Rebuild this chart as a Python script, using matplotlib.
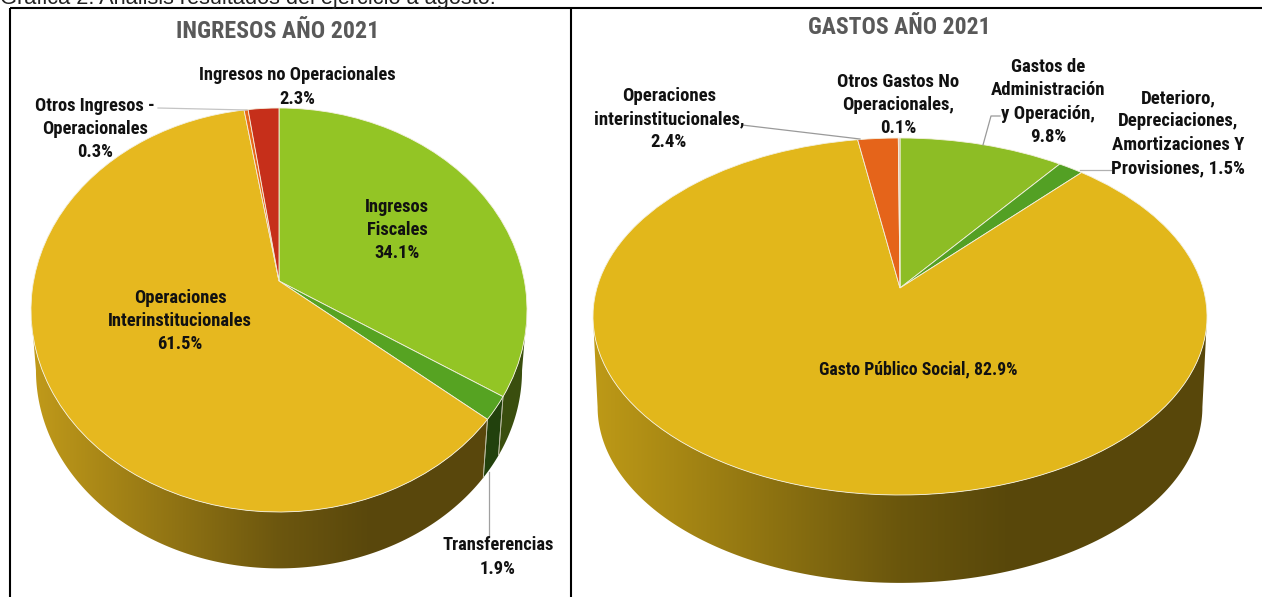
import logging
import numpy as np
import matplotlib
matplotlib.use("Agg")
import matplotlib.pyplot as plt
from matplotlib.transforms import Transform
from matplotlib.patches import Polygon

logging.getLogger("matplotlib.font_manager").setLevel(logging.ERROR)

# ---- data
ing_labels = ["Ingresos Fiscales", "Transferencias", "Operaciones Interinstitucionales",
              "Otros Ingresos - Operacionales", "Ingresos no Operacionales"]
ing_values = [34.1, 1.9, 61.5, 0.3, 2.3]
ing_colors = ["#93C525", "#56A322", "#E6B81F", "#E8681A", "#C62F1A"]
gas_labels = ["Gastos de Administración y Operación", "Deterioro, Depreciaciones, Amortizaciones Y Provisiones",
              "Gasto Público Social", "Operaciones interinstitucionales", "Otros Gastos No Operacionales"]
gas_values = [9.8, 1.5, 82.9, 2.4, 0.1]
gas_colors = ["#8DBD25", "#53A024", "#E2B71B", "#E5641A", "#D8AE98"]

W, H = 1262, 597
NARROW = ["Roboto Condensed", "Roboto"]
TXT = "#111111"


class Persp(Transform):
    """Unit circle to tilted pie plane in pixel-like data coordinates."""
    input_dims = output_dims = 2

    def __init__(self, cx, cy, up, down, rx, scale=1.0, dy=0.0):
        super().__init__()
        self.c = (down - up) / (down + up)
        self.A = up * (1 + self.c)
        self.B = rx * np.sqrt(1 - self.c ** 2)
        self.cx, self.cy, self.s, self.dy = cx, cy, scale, dy

    def transform_non_affine(self, values):
        v = np.asarray(values, float)
        d = 1 + self.c * v[:, 1]
        return np.column_stack([self.cx + self.s * self.B * v[:, 0] / d,
                                self.cy + self.dy - self.s * self.A * v[:, 1] / d])

    def transform(self, values):
        return self.transform_non_affine(values)


def shade(rgb, u):
    f = np.interp(u, [0, 0.5, 0.68, 1], [0.84, 0.47, 0.39, 0.39])
    return np.outer(f, rgb)


def draw_pie(ax, values, colors, cx, cy, up, down, rx, scale, dy):
    top = Persp(cx, cy, up, down, rx)
    bot = Persp(cx, cy, up, down, rx, scale, dy)
    vals = np.array(values, float)
    edges = np.concatenate([[0], np.cumsum(vals)]) / vals.sum() * 2 * np.pi
    tmin = np.arccos(-top.c)
    tmax = 2 * np.pi - tmin
    xl, xr = cx - rx, cx + rx
    for a, b, col in zip(edges[:-1], edges[1:], colors):
        a2, b2 = max(a, tmin), min(b, tmax)
        if b2 <= a2:
            continue
        t = np.linspace(a2, b2, 160)
        unit = np.column_stack([np.sin(t), np.cos(t)])
        poly = np.vstack([top.transform(unit), bot.transform(unit)[::-1]])
        rgb = np.array(matplotlib.colors.to_rgb(col))
        us = np.linspace(0, 1, 400)
        if col in ("#E6B81F", "#E2B71B"):
            row = shade(rgb, us)
        else:
            row = np.tile(rgb * 0.40, (400, 1))
        im = ax.imshow(row[None, :, :], extent=(xl, xr, H, 0), aspect="auto", zorder=2,
                       interpolation="bilinear")
        patch = Polygon(poly, closed=True, transform=ax.transData, facecolor="none",
                        edgecolor="none", zorder=2)
        ax.add_patch(patch)
        im.set_clip_path(patch)
        for e in (a2, b2):
            if tmin < e < tmax:
                p = np.array([[np.sin(e), np.cos(e)]])
                q = np.vstack([top.transform(p), bot.transform(p)])
                ax.plot(q[:, 0], q[:, 1], color="#b9b9a0", lw=0.6, zorder=3)
    wedges, _ = ax.pie(vals, colors=colors, startangle=90, counterclock=False, radius=1,
                       wedgeprops=dict(edgecolor="#f4f1e0", linewidth=0.6, zorder=4))
    for w in wedges:
        w.set_transform(top + ax.transData)


fig = plt.figure(figsize=(W / 100, H / 100), dpi=100, facecolor="white")
ax = fig.add_axes([0, 0, 1, 1])

draw_pie(ax, ing_values, ing_colors, 279, 281, 173, 231, 248, 0.98, 61)
draw_pie(ax, gas_values, gas_colors, 900, 288, 150, 207, 307, 0.985, 91)

ax.set_aspect("auto")
ax.set_xlim(0, W)
ax.set_ylim(H, 0)
ax.axis("off")

# frame
for xs, ys in [((10, 10), (8, H)), ((571, 571), (8, H)), ((10, W), (8, 8))]:
    ax.plot(xs, ys, color="black", lw=1.5, zorder=6, solid_capstyle="butt", clip_on=False)

# leader lines
for xs, ys, c in [((158, 247), (108, 110), "#c4c4c4"),
                  ((489, 489), (472, 536), "#a0a0a0"),
                  ((742, 860), (125, 139), "#9a9a9a"),
                  ((983, 991, 1000), (145, 116, 116), "#9a9a9a"),
                  ((1080, 1111), (170, 170), "#b0b0b0")]:
    ax.plot(xs, ys, color=c, lw=0.9, zorder=5)

ax.text(0, 4, "Gráfica 2. Análisis resultados del ejercicio a agosto.", family=["Liberation Sans"],
        fontsize=15.7, color="#222222", ha="left", va="baseline", zorder=7)
ax.text(278, 32, "INGRESOS AÑO 2021", family=NARROW, weight="bold", fontsize=17.2,
        color="#595959", ha="center", va="center")
ax.text(899, 28, "GASTOS AÑO 2021", family=NARROW, weight="bold", fontsize=17,
        color="#595959", ha="center", va="center")

left_labels = [
    (297, 87, "Ingresos no Operacionales\n2.3%"),
    (95, 129, "Otros Ingresos -\nOperacionales\n0.3%"),
    (397, 230, "Ingresos\nFiscales\n34.1%"),
    (180, 321, "Operaciones\nInterinstitucionales\n61.5%"),
    (498, 557, "Transferencias\n1.9%"),
]
right_labels = [
    (669, 119, "Operaciones\ninterinstitucionales,\n2.4%"),
    (898, 105, "Otros Gastos No\nOperacionales,\n0.1%"),
    (1048, 102, "Gastos de\nAdministración\ny Operación,\n9.8%"),
    (1178, 133, "Deterioro,\nDepreciaciones,\nAmortizaciones Y\nProvisiones, 1.5%"),
]
for group, fs in ((left_labels, 13.3), (right_labels, 13.5)):
    for x, y, s in group:
        ax.text(x, y, s, family=NARROW, weight="bold", fontsize=fs, color=TXT, ha="center",
                va="center", linespacing=1.38, zorder=8)
ax.text(918, 369, "Gasto Público Social, 82.9%", family=NARROW, weight="bold", fontsize=12.8,
        color=TXT, ha="center", va="center", zorder=8)

fig.savefig("out.png", dpi=100, facecolor="white")
